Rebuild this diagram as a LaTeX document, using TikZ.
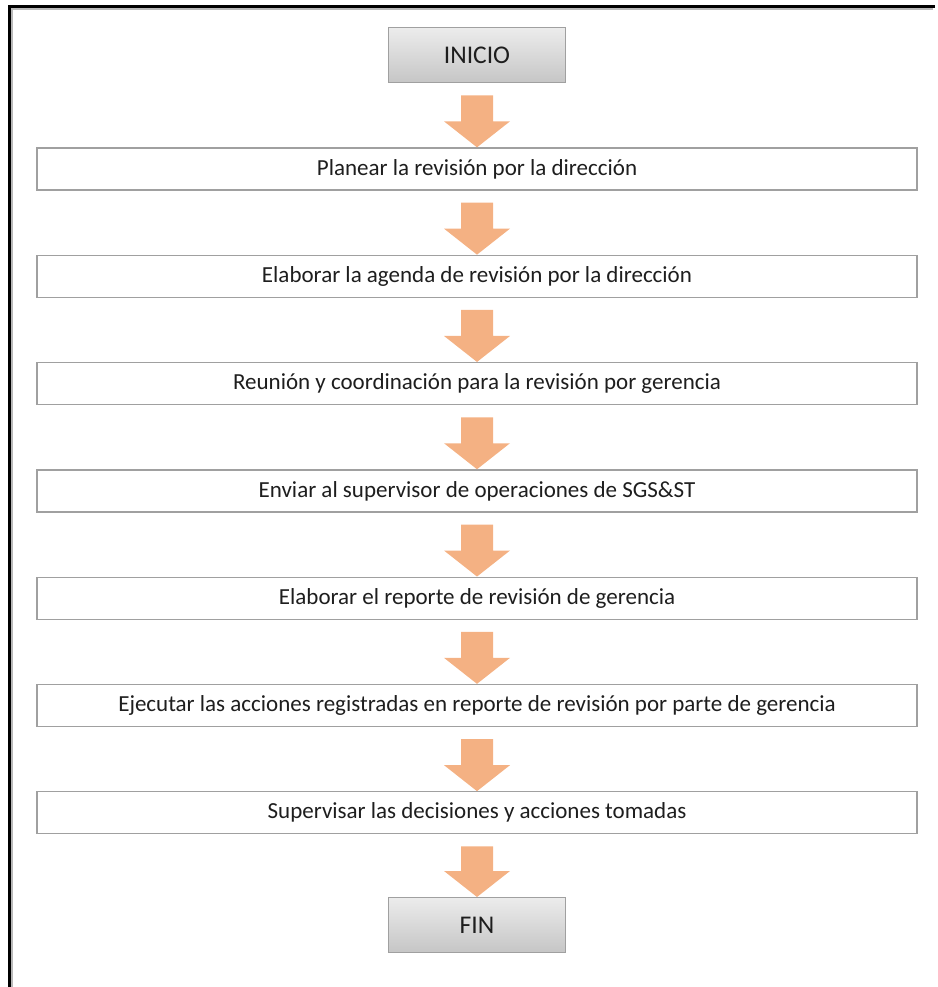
\documentclass[tikz,border=0pt]{standalone}
\usepackage{fontspec}
\setmainfont{Carlito}
\usetikzlibrary{calc}

\definecolor{arroworange}{RGB}{244,177,131}
\definecolor{boxline}{RGB}{160,160,160}
\definecolor{textgray}{RGB}{30,30,30}

\begin{document}
\begin{tikzpicture}[x=1pt,y=-1pt,
    stepbox/.style={draw=boxline,line width=1.3pt,fill=white,minimum width=880pt,
      minimum height=42pt,inner sep=0pt,text=textgray,font=\fontsize{23}{26}\selectfont},
    endbox/.style={draw=boxline,line width=1pt,top color=gray!15,bottom color=gray!45,
      minimum width=177pt,minimum height=55pt,inner sep=0pt,text=textgray,
      font=\fontsize{25.5}{29}\selectfont},
    flowarrow/.style={fill=arroworange}]
            % Page size and margins
            \useasboundingbox (0,0) rectangle (937,987);

            % Frame on the left and top
            \draw[line width=3pt] (9.5,987) -- (9.5,6.5) -- (935,6.5);
            \draw[gray!55,line width=2pt] (12,987) -- (12,9) -- (933,9);

            \def\dy{107.3} % distance between steps

            % Start and end
            \node[endbox] (ini) at (477,55.5) {INICIO};
            \node[endbox] (fin) at (477,925) {FIN};

            % Steps of the process
            \foreach \i/\t in {1/Planear la revisión por la dirección,
                2/Elaborar la agenda de revisión por la dirección,
                3/Reunión y coordinación para la revisión por gerencia,
                4/Enviar al supervisor de operaciones de SGS\&ST,
                5/Elaborar el reporte de revisión de gerencia,
                6/Ejecutar las acciones registradas en reporte de revisión por parte de gerencia,
                7/Supervisar las decisiones y acciones tomadas}
                \node[stepbox] (s\i) at (477,{169+(\i-1)*\dy}) {\t};

            % Block arrows between the boxes
            \foreach \a/\b in {ini/s1,s1/s2,s2/s3,s3/s4,s4/s5,s5/s6,s6/s7,s7/fin}
                \fill[flowarrow] let \p1=(\a.south), \p2=(\b.north) in
                    (\x2-16pt,\y1-12pt) -- (\x2+16pt,\y1-12pt) -- (\x2+16pt,\y2+26pt)
                    -- (\x2+33pt,\y2+26pt) -- (\x2,\y2) -- (\x2-33pt,\y2+26pt)
                    -- (\x2-16pt,\y2+26pt) -- cycle;
\end{tikzpicture}
\end{document}
